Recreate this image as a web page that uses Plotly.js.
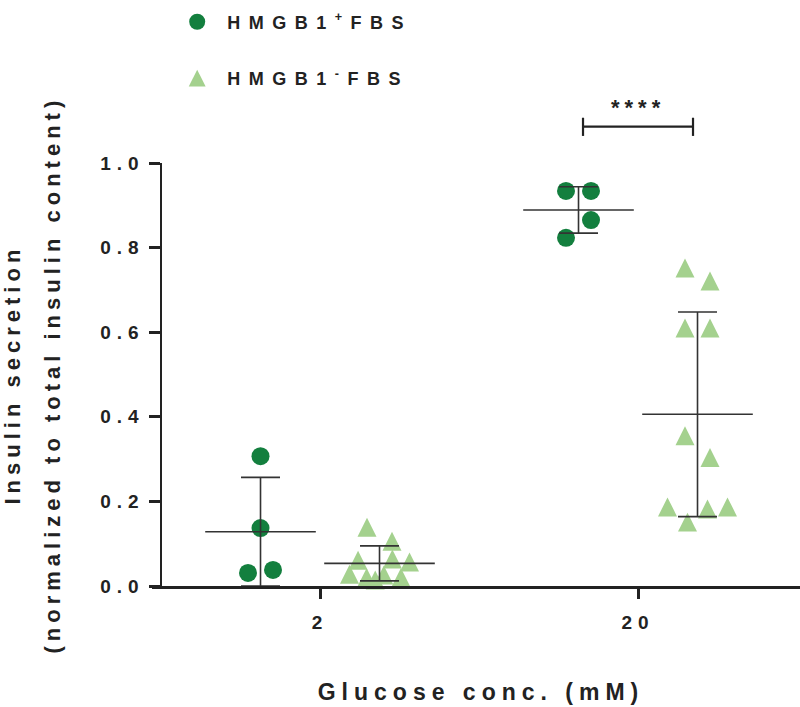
<!DOCTYPE html>
<html>
<head>
<meta charset="utf-8">
<script src="https://cdn.plot.ly/plotly-3.0.1.min.js"></script>
<style>
html, body { margin: 0; padding: 0; background: #ffffff; }
#chart { width: 800px; height: 707px; }
.xtick text, .ytick text { letter-spacing: 6px; }
.g-xtitle text { letter-spacing: 6px; }
.legendtext { letter-spacing: 8.5px; }
.annotation-text { letter-spacing: 5px; }
</style>
</head>
<body>
<div id="chart"></div>
<script>
// ---------------- data ----------------
const categories = ['2', '20'];                    // glucose concentration (mM)
const seriesNames = ['HMGB1<sup>+</sup>FBS', 'HMGB1<sup>-</sup>FBS'];
const hmgbPos2  = [0.307, 0.137, 0.031, 0.038];
const hmgbPos20 = [0.934, 0.934, 0.823, 0.865];
const hmgbNeg2  = [0.139, 0.106, 0.028, 0.061, 0.020, 0.014, 0.026, 0.064, 0.020, 0.057];
const hmgbNeg20 = [0.752, 0.721, 0.610, 0.610, 0.355, 0.304, 0.187, 0.151, 0.182, 0.187];
const yTickValues = [0, 0.2, 0.4, 0.6, 0.8, 1.0];
const significanceLabel = '****';
const xTitle = 'Glucose conc. (mM)';
const yTitleLines = ['Insulin secretion', '(normalized to total insulin content)'];

// ---------------- layout geometry ----------------
const W = 800, H = 707;
const M = { l: 162, r: 0, t: 163, b: 121, autoexpand: false };
const plotW = W - M.l - M.r, plotH = H - M.t - M.b;
const xRange = [-0.4969, 1.5094];
const yRange = [0, 1];
const pxPerCat = plotW / (xRange[1] - xRange[0]);
const pxPerY = plotH / (yRange[1] - yRange[0]);
const groupOffsetPx = [-59.5, 59.5];
const binPx = 22;
const axisOverhangPx = 10;
const yTitleCentersPx = [12, 52];
const FONT = 'Liberation Sans, Arial, Helvetica, sans-serif';
const INK = '#222222';
const colPos = '#137f3e';
const colNeg = '#a4d18e';

function mean(a) { return a.reduce((s, v) => s + v, 0) / a.length; }
function sd(a) { const m = mean(a); return Math.sqrt(a.reduce((s, v) => s + (v - m) * (v - m), 0) / (a.length - 1)); }

// scatter-dot spreading: points close in value share a row and are spread symmetrically
function swarm(vals, center) {
  const order = vals.map((v, i) => i).sort((a, b) => vals[b] - vals[a]);
  const xs = new Array(vals.length);
  let i = 0;
  while (i < order.length) {
    const first = vals[order[i]];
    const bin = [order[i]];
    let j = i + 1;
    while (j < order.length && (first - vals[order[j]]) * pxPerY <= binPx) { bin.push(order[j]); j++; }
    bin.sort((a, b) => a - b);
    const n = bin.length;
    const sp = n > 1 ? Math.min(25, 60 / (n - 1)) : 0;
    bin.forEach((idx, k) => { xs[idx] = center + ((k - (n - 1) / 2) * sp) / pxPerCat; });
    i = j;
  }
  return xs;
}

function pointTrace(valsByCat, offPx, color, symbol, name) {
  const xs = [], ys = [];
  valsByCat.forEach((vals, ci) => {
    xs.push(...swarm(vals, ci + offPx / pxPerCat));
    ys.push(...vals);
  });
  return {
    type: 'scatter', mode: 'markers', x: xs, y: ys, name: name, legendgroup: name,
    marker: { color: color, symbol: symbol, size: 18, line: { width: 0 } },
    cliponaxis: false, hoverinfo: 'skip'
  };
}

function statTrace(valsByCat, offPx) {
  return {
    type: 'scatter', mode: 'markers',
    x: valsByCat.map((v, ci) => ci + offPx / pxPerCat),
    y: valsByCat.map(mean),
    showlegend: false, hoverinfo: 'skip', cliponaxis: false,
    marker: { symbol: 'line-ew', size: 79, color: '#333333', line: { color: '#333333', width: 1.6 } },
    error_y: { type: 'data', array: valsByCat.map(sd), visible: true, color: '#333333', thickness: 1.6, width: 19.5 }
  };
}

const posData = [hmgbPos2, hmgbPos20];
const negData = [hmgbNeg2, hmgbNeg20];

const traces = [
  pointTrace(posData, groupOffsetPx[0], colPos, 'circle', seriesNames[0]),
  pointTrace(negData, groupOffsetPx[1], colNeg, 'triangle-up', seriesNames[1]),
  statTrace(posData, groupOffsetPx[0]),
  statTrace(negData, groupOffsetPx[1])
];

function xPaper(v) { return (v - xRange[0]) / (xRange[1] - xRange[0]); }
const bracketHalf = 55 / pxPerCat;
const bx0 = xPaper(1 - bracketHalf), bx1 = xPaper(1 + bracketHalf);
const byLine = 1.086, byTop = 1.107, byBot = 1.064;
const lineStyle = { color: INK, width: 2.2 };
const axisDrop = -1.5 / plotH;   // x-axis line sits just below the plot edge
const titleFont = { size: 22, family: FONT, weight: 'bold', color: INK };

const layout = {
  width: W, height: H,
  margin: M,
  paper_bgcolor: '#ffffff', plot_bgcolor: '#ffffff',
  font: { family: FONT, color: INK, weight: 'bold' },
  showlegend: true,
  legend: {
    xref: 'container', yref: 'container', x: 0.209, y: 0.995, xanchor: 'left', yanchor: 'top',
    font: { size: 18, family: FONT, weight: 'bold', color: INK },
    tracegroupgap: 30, traceorder: 'grouped', bgcolor: 'rgba(0,0,0,0)', itemwidth: 50
  },
  xaxis: {
    range: xRange, showgrid: false, zeroline: false, automargin: false,
    tickmode: 'array', tickvals: categories.map((c, i) => i), ticktext: categories,
    showline: true, linewidth: 3, linecolor: INK,
    ticks: 'outside', ticklen: 10, tickwidth: 3, tickcolor: INK, ticklabelstandoff: 7,
    tickfont: { size: 19, family: FONT, weight: 'bold', color: INK },
    title: { text: xTitle, font: { size: 23, family: FONT, weight: 'bold', color: INK }, standoff: 53 },
    fixedrange: true
  },
  yaxis: {
    range: yRange, automargin: false,
    showgrid: false, zeroline: false,
    tickmode: 'array', tickvals: yTickValues, ticktext: yTickValues.map(v => v.toFixed(1)),
    showline: true, linewidth: 2.5, linecolor: INK,
    ticks: 'outside', ticklen: 11, tickwidth: 3, tickcolor: INK,
    tickfont: { size: 19, family: FONT, weight: 'bold', color: INK },
    fixedrange: true
  },
  shapes: [
    { type: 'line', xref: 'paper', yref: 'paper', x0: -axisOverhangPx / plotW, x1: 0, y0: axisDrop, y1: axisDrop,
      line: { color: INK, width: 3 } },
    { type: 'line', xref: 'paper', yref: 'paper', x0: bx0, x1: bx1, y0: byLine, y1: byLine, line: lineStyle },
    { type: 'line', xref: 'paper', yref: 'paper', x0: bx0, x1: bx0, y0: byBot, y1: byTop, line: lineStyle },
    { type: 'line', xref: 'paper', yref: 'paper', x0: bx1, x1: bx1, y0: byBot, y1: byTop, line: lineStyle }
  ],
  annotations: [
    { xref: 'paper', yref: 'paper', x: xPaper(1), y: 1.132, text: significanceLabel, showarrow: false,
      xanchor: 'center', yanchor: 'middle', font: { size: 22, family: FONT, weight: 'bold', color: INK } }
  ].concat(yTitleLines.map((t, i) => ({
      xref: 'paper', yref: 'paper', x: (yTitleCentersPx[i] - M.l) / plotW, y: 0.5, text: t, textangle: -90,
      showarrow: false, xanchor: 'center', yanchor: 'middle', font: titleFont
  })))
};

const gd = document.getElementById('chart');
Plotly.newPlot(gd, traces, layout, { displayModeBar: false, staticPlot: true }).then(() => {
  // reshape Plotly's flat triangle-up into the taller, equal-sided triangle of the reference
  gd.querySelectorAll('path').forEach(p => {
    const d = p.getAttribute('d') || '';
    const m = d.match(/^M-([\d.]+),([\d.]+)H([\d.]+)L0,-([\d.]+)Z$/);
    if (m) {
      const a = (parseFloat(m[4]) * 1.055).toFixed(2);
      p.setAttribute('d', 'M-' + a + ',' + a + 'H' + a + 'L0,-' + a + 'Z');
    }
  });
});
</script>
</body>
</html>
